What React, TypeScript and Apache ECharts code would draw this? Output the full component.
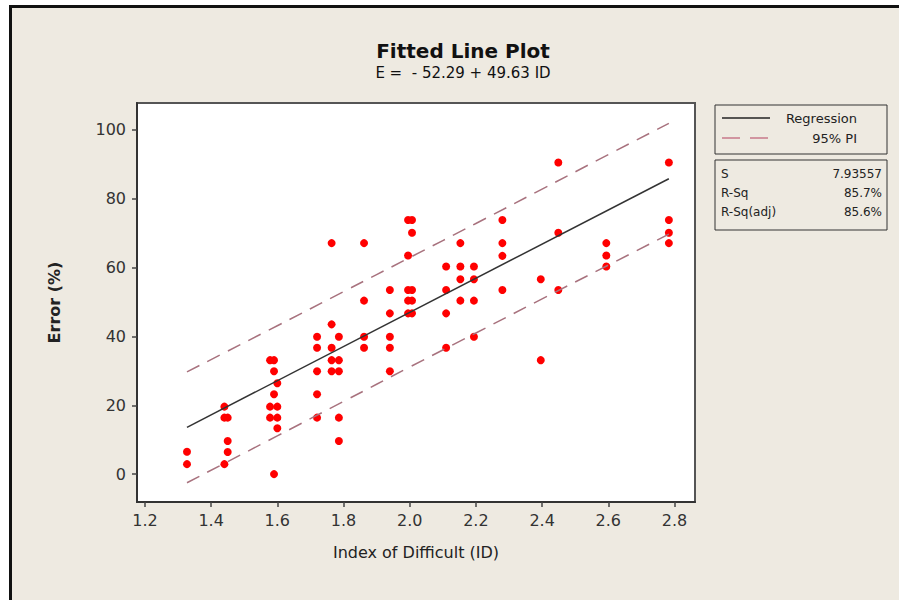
import React, { useEffect, useRef } from "react";
import * as echarts from "echarts";

// Distinct ID levels and the Error (%) values observed at each level
const idLevels = [
  1.327, 1.44, 1.45, 1.578, 1.59, 1.6, 1.72, 1.764, 1.786, 1.862, 1.94,
  1.995, 2.007, 2.11, 2.153, 2.194, 2.28, 2.396, 2.449, 2.594, 2.783,
];
const errorAtLevel = [
  [6.5, 2.9],
  [19.6, 16.4, 2.9],
  [16.4, 9.6, 6.4],
  [33.1, 19.6, 16.4],
  [33.1, 29.9, 23.2, 0],
  [26.4, 19.6, 16.4, 13.3],
  [39.9, 36.7, 29.9, 23.2, 16.4],
  [67.1, 43.5, 36.7, 33.1, 29.9],
  [39.9, 33.1, 29.9, 16.4, 9.6],
  [67.1, 50.4, 39.9, 36.7],
  [53.5, 46.7, 39.9, 36.7, 29.9],
  [73.8, 63.5, 53.5, 50.4, 46.7],
  [73.8, 70.1, 53.5, 50.4, 46.7],
  [60.3, 53.5, 46.7, 36.7],
  [67.1, 60.3, 56.6, 50.4],
  [60.3, 56.6, 50.4, 39.9],
  [73.8, 67.1, 63.4, 53.5],
  [56.6, 33.1],
  [90.5, 70.1, 53.5],
  [67.1, 63.5, 60.3],
  [90.5, 73.8, 70.1, 67.1],
];

// Fitted regression line end points
const fitId = [1.327, 2.783];
const fitError = [13.6, 85.8];

// 95% prediction interval, read at several ID positions
const piId = [1.327, 1.6, 1.8, 2.0, 2.2, 2.4, 2.6, 2.783];
const piUpper = [29.7, 43.1, 53.0, 62.9, 72.8, 82.8, 92.8, 101.9];
const piLower = [-2.5, 11.1, 21.1, 31.1, 41.0, 50.9, 60.7, 69.7];

const xTicks = [1.2, 1.4, 1.6, 1.8, 2.0, 2.2, 2.4, 2.6, 2.8];
const yTicks = [0, 20, 40, 60, 80, 100];

const legendNames = ["Regression", "95% PI"];
const statLabels = ["S", "R-Sq", "R-Sq(adj)"];
const statValues = ["7.93557", "85.7%", "85.6%"];

export default function App() {
  const ref = useRef<HTMLDivElement>(null);

  useEffect(() => {
    if (!ref.current) return;
    const chart = echarts.init(ref.current, null, { renderer: "svg" });
    const font = "DejaVu Sans";

    const points: number[][] = [];
    idLevels.forEach((x, i) => {
      errorAtLevel[i].forEach((y) => points.push([x, y]));
    });
    const fitData = fitId.map((x, i) => [x, fitError[i]]);
    const upperData = piId.map((x, i) => [x, piUpper[i]]);
    const lowerData = piId.map((x, i) => [x, piLower[i]]);

    const piColor = "#A8727E";
    const dash = [14, 9];

    const legendX = 715;
    const graphic: any[] = [
      {
        type: "rect",
        shape: { x: legendX, y: 105, width: 172, height: 49 },
        style: { fill: "transparent", stroke: "#333", lineWidth: 1 },
      },
      {
        type: "line",
        shape: { x1: 722, y1: 118, x2: 770, y2: 118 },
        style: { stroke: "#222", lineWidth: 1.5 },
      },
      {
        type: "line",
        shape: { x1: 722, y1: 138, x2: 770, y2: 138 },
        style: { stroke: "#C77A8A", lineWidth: 1.5, lineDash: [18, 10] },
      },
      {
        type: "rect",
        shape: { x: legendX, y: 160, width: 172, height: 70 },
        style: { fill: "transparent", stroke: "#333", lineWidth: 1 },
      },
    ];
    legendNames.forEach((n, i) => {
      graphic.push({
        type: "text",
        x: 857,
        y: 118 + i * 20,
        style: {
          text: n,
          align: "right",
          verticalAlign: "middle",
          fontFamily: font,
          fontSize: 13,
          fill: "#222",
        },
      });
    });
    statLabels.forEach((n, i) => {
      graphic.push({
        type: "text",
        x: 721,
        y: 174 + i * 19,
        style: {
          text: n,
          align: "left",
          verticalAlign: "middle",
          fontFamily: font,
          fontSize: 12,
          fill: "#222",
        },
      });
      graphic.push({
        type: "text",
        x: 882,
        y: 174 + i * 19,
        style: {
          text: statValues[i],
          align: "right",
          verticalAlign: "middle",
          fontFamily: font,
          fontSize: 12,
          fill: "#222",
        },
      });
    });

    chart.setOption({
      animation: false,
      backgroundColor: "transparent",
      textStyle: { fontFamily: font },
      title: {
        text: "Fitted Line Plot",
        subtext: "E =  - 52.29 + 49.63 ID",
        left: 458,
        top: 36,
        textAlign: "center",
        itemGap: 4,
        textStyle: {
          fontFamily: font,
          fontSize: 20,
          fontWeight: "bold",
          color: "#111",
        },
        subtextStyle: { fontFamily: font, fontSize: 15, color: "#111" },
      },
      grid: {
        left: 137,
        top: 103,
        width: 558,
        height: 399,
        show: true,
        backgroundColor: "#ffffff",
        borderColor: "#555",
        borderWidth: 2,
      },
      xAxis: {
        type: "value",
        min: 1.176,
        max: 2.862,
        name: "Index of Difficult (ID)",
        nameLocation: "middle",
        nameGap: 42,
        nameTextStyle: {
          fontFamily: font,
          fontSize: 16,
          color: "#222",
          verticalAlign: "top",
        },
        axisLine: {
          show: true,
          onZero: false,
          lineStyle: { color: "#333", width: 2 },
        },
        axisTick: {
          show: true,
          customValues: xTicks,
          length: 5,
          lineStyle: { color: "#444", width: 1.5 },
        },
        axisLabel: {
          customValues: xTicks,
          formatter: (v: number) => v.toFixed(1),
          fontFamily: font,
          fontSize: 16,
          color: "#333",
          margin: 10,
        },
        splitLine: { show: false },
      },
      yAxis: {
        type: "value",
        min: -8.1,
        max: 107.8,
        name: "Error (%)",
        nameLocation: "middle",
        nameGap: 75,
        nameRotate: 90,
        nameTextStyle: {
          fontFamily: font,
          fontSize: 16,
          fontWeight: "bold",
          color: "#222",
        },
        axisLine: {
          show: true,
          onZero: false,
          lineStyle: { color: "#333", width: 2 },
        },
        axisTick: {
          show: true,
          customValues: yTicks,
          length: 5,
          lineStyle: { color: "#444", width: 1.5 },
        },
        axisLabel: {
          customValues: yTicks,
          formatter: (v: number) => String(Math.round(v)),
          fontFamily: font,
          fontSize: 16,
          color: "#333",
          margin: 11,
        },
        splitLine: { show: false },
      },
      series: [
        {
          name: "Error",
          type: "scatter",
          data: points,
          symbol: "circle",
          symbolSize: 8,
          itemStyle: { color: "#FF0000", opacity: 1 },
          z: 2,
        },
        {
          name: "Regression",
          type: "line",
          data: fitData,
          showSymbol: false,
          lineStyle: { color: "#333", width: 1.5 },
          z: 3,
        },
        {
          name: "95% PI",
          type: "line",
          data: upperData,
          showSymbol: false,
          smooth: true,
          lineStyle: { color: piColor, width: 1.5, type: dash },
          z: 3,
        },
        {
          name: "95% PI lower",
          type: "line",
          data: lowerData,
          showSymbol: false,
          smooth: true,
          lineStyle: { color: piColor, width: 1.5, type: dash },
          z: 3,
        },
      ],
      graphic,
    });

    return () => chart.dispose();
  }, []);

  return (
    <div
      style={{
        position: "fixed",
        left: 0,
        top: 0,
        width: 899,
        height: 600,
        background: "#ffffff",
        overflow: "hidden",
      }}
    >
      <div
        style={{
          position: "absolute",
          left: 9,
          top: 5,
          width: 890,
          height: 595,
          boxSizing: "border-box",
          borderLeft: "3px solid #111",
          borderTop: "3px solid #111",
          background: "#EEEAE1",
        }}
      />
      <div
        ref={ref}
        style={{ position: "absolute", left: 0, top: 0, width: 899, height: 600 }}
      />
    </div>
  );
}
